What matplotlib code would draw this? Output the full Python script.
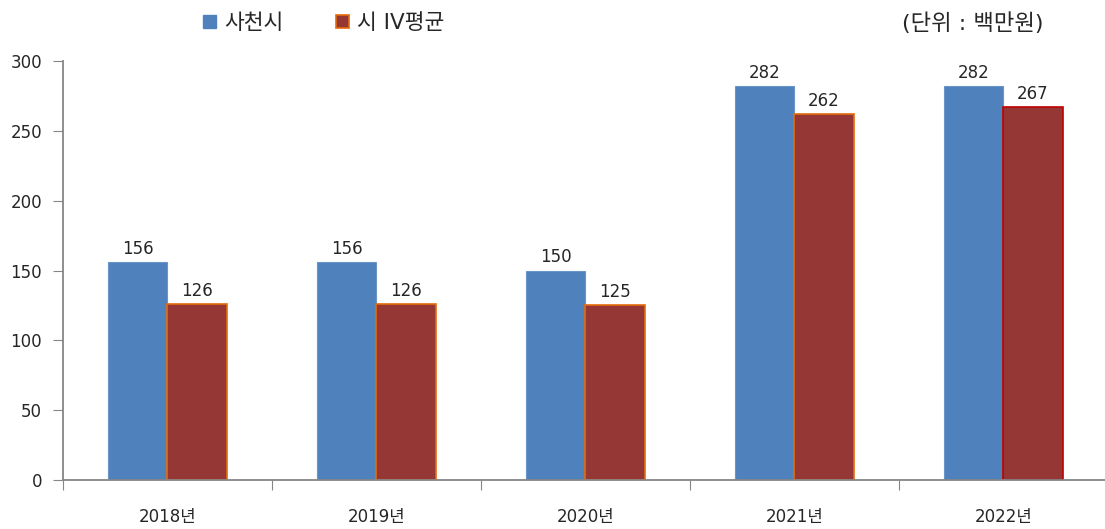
import matplotlib.pyplot as plt
import numpy as np
from matplotlib.patches import Rectangle

plt.rcParams['font.family'] = ['DejaVu Sans', 'Noto Sans CJK KR']

years = ["2018년", "2019년", "2020년", "2021년", "2022년"]
sacheon = [156, 156, 150, 282, 282]
avg_iv = [126, 126, 125, 262, 267]
series_names = ["사천시", "시 IV평균"]

blue = "#4F81BD"
red = "#953735"
orange = "#E46C0A"
axis_gray = "#868686"
txt = "#262626"

fig = plt.figure(figsize=(11.05, 5.29), dpi=100)
ax = fig.add_axes([0.057, 0.0926, 0.9457, 0.792])

x = np.arange(len(years))
w = 0.283
b1 = ax.bar(x - w / 2, sacheon, w, color=blue, edgecolor="#6A95C8", linewidth=0.8)
edges = [orange] * (len(years) - 1) + ["#C00000"]
b2 = ax.bar(x + w / 2, avg_iv, w, color=red, edgecolor=edges, linewidth=1.2)

for bars, vals in [(b1, sacheon), (b2, avg_iv)]:
    for rect, v in zip(bars, vals):
        ax.text(rect.get_x() + rect.get_width() / 2, v + 3, str(v), ha="center", va="bottom",
                fontsize=12, color=txt)

ax.set_xlim(-0.5, len(years) - 0.5)
ax.set_ylim(0, 300)
ax.set_yticks(range(0, 301, 50))
ax.set_xticks(np.arange(-0.5, len(years) - 0.5, 1))
ax.set_xticklabels([])
ax.set_xticks(x, minor=True)
ax.set_xticklabels(years, minor=True, fontsize=12, color=txt)
ax.tick_params(axis="x", which="minor", length=0, pad=20)
ax.tick_params(axis="x", which="major", length=7, color=axis_gray, direction="out")
ax.tick_params(axis="y", length=7, color=axis_gray, labelsize=12, labelcolor=txt, pad=8)

for s in ["top", "right"]:
    ax.spines[s].set_visible(False)
for s in ["left", "bottom"]:
    ax.spines[s].set_color(axis_gray)
    ax.spines[s].set_linewidth(1.3)

# legend drawn in figure coordinates
fig.patches.append(Rectangle((0.184, 0.947), 0.0118, 0.024, transform=fig.transFigure,
                             facecolor=blue, edgecolor=blue))
fig.text(0.203, 0.957, series_names[0], fontsize=15.5, va="center", color=txt)
fig.patches.append(Rectangle((0.304, 0.947), 0.0118, 0.024, transform=fig.transFigure,
                             facecolor=red, edgecolor=orange, linewidth=1.2))
fig.text(0.323, 0.957, series_names[1], fontsize=15.5, va="center", color=txt)
fig.text(0.944, 0.957, "(단위 : 백만원)", fontsize=16, va="center", ha="right", color=txt)

fig.savefig("out.png", dpi=100)
